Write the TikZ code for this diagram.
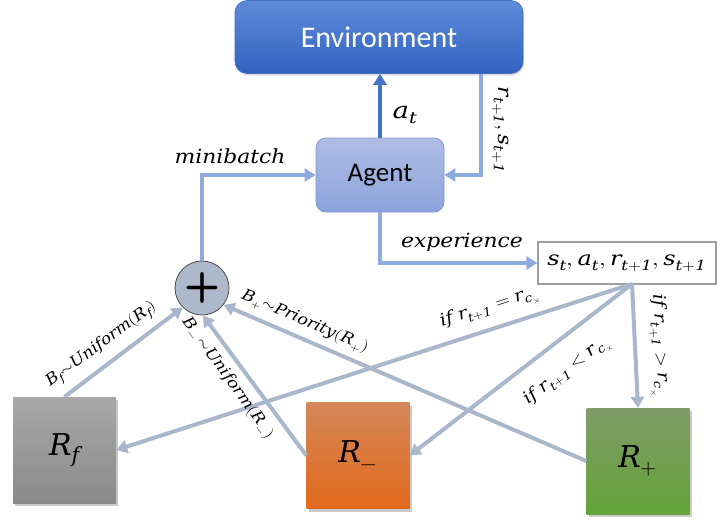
\documentclass[tikz,border=0pt]{standalone}
\usepackage{fontspec}
\usepackage{unicode-math}
\usepackage{graphicx}
\usetikzlibrary{arrows.meta,shadows}
\newfontfamily\calibri{Carlito}
% a heavier italic for the letters of the formulas
\setmathfontface\mlab{DejaVu Serif Italic}
% formulas are set a little wider than the font gives
\newcommand\wm[2][1.2]{\scalebox{#1}[1]{$\mlab{#2}$}}

\definecolor{envtop}{HTML}{5D8BD9}
\definecolor{envbot}{HTML}{3262C0}
\definecolor{envedge}{HTML}{3F6CC4}
\definecolor{agtop}{HTML}{AEBDE4}
\definecolor{agbot}{HTML}{8CA3DB}
\definecolor{agedge}{HTML}{7F97D0}
\definecolor{darkarrow}{HTML}{4472C4}
\definecolor{lightarrow}{HTML}{8FAADC}
\definecolor{greyarrow}{HTML}{A9B7CC}
\definecolor{plusfill}{HTML}{ADB9CA}
\definecolor{rftop}{HTML}{A8A8A8}
\definecolor{rfbot}{HTML}{8A8A8A}
\definecolor{rmtop}{HTML}{D4875A}
\definecolor{rmmid}{HTML}{F27B28}
\definecolor{rmbot}{HTML}{E2691B}
\definecolor{rptop}{HTML}{809C68}
\definecolor{rpmid}{HTML}{6BAD40}
\definecolor{rpbot}{HTML}{63A338}

\begin{document}
\begin{tikzpicture}[x=1pt,y=-1pt,
  tip/.style={-{Triangle[width=13pt,length=11pt]}},
  dk/.style={draw=darkarrow,line width=4pt,tip},
  lb/.style={draw=lightarrow,line width=4pt,tip},
  gr/.style={draw=greyarrow,line width=4pt,tip},
  membox/.style={minimum width=103pt,minimum height=106pt,inner sep=0pt,
    drop shadow={shadow xshift=2pt,shadow yshift=-3pt,opacity=0.35,fill=black!60},
    font=\fontsize{30}{36}\selectfont},
  lab/.style={inner sep=0pt,font=\fontsize{15.5}{18}\selectfont},
  condlab/.style={inner sep=0pt,font=\fontsize{17}{20}\selectfont},
  steplab/.style={inner sep=0pt,font=\fontsize{19.5}{23}\selectfont}]
\useasboundingbox (0,0) rectangle (720,522);

% environment and agent
\node[rounded corners=12pt,minimum width=288pt,minimum height=73pt,
  top color=envtop,bottom color=envbot,draw=envedge,line width=0.6pt,text=white,
  drop shadow={shadow xshift=1pt,shadow yshift=-2pt,opacity=0.25},
  font=\calibri\fontsize{30}{36}\selectfont] (env) at (379,37) {Environment};
\node[rounded corners=10pt,minimum width=128pt,minimum height=74pt,
  top color=agtop,bottom color=agbot,draw=agedge,line width=0.8pt,
  font=\calibri\fontsize{27}{32}\selectfont] (agent) at (380,175) {Agent};

% transition buffer
\node[draw=black!38,line width=1.3pt,fill=white,minimum width=178pt,minimum height=42pt,
  inner sep=0pt,font=\fontsize{20}{24}\selectfont] (exp) at (627,263) {\wm{s_t, a_t, r_{t+1}, s_{t+1}}};

% sampler
\node[circle,minimum size=54pt,inner sep=0pt,fill=plusfill,draw=black!70,line width=0.8pt,
  font=\sffamily\bfseries\fontsize{42}{42}\selectfont] (plus) at (202,288) {+};

% replay memories
\node[membox,top color=rftop,bottom color=rfbot] (Rf) at (64.5,450) {$\mlab{R_f}$};
\node[membox,top color=rmtop,middle color=rmmid,bottom color=rmbot] (Rm) at (358,455.5) {$\mlab{R_-}$};
\node[membox,top color=rptop,middle color=rpmid,bottom color=rpbot] (Rp) at (638,461) {$\mlab{R_+}$};

% interaction loop
\coordinate (rtop) at (481,73.5);
\coordinate (fork) at (632,284);
\draw[dk] (agent.north) -- (agent.north |- env.south);
\draw[lb] (rtop) |- (agent.east);
\draw[lb] (plus.north) |- (agent.west);
\draw[lb] (agent.south) |- (exp.west);

% routing of transitions
\draw[gr] (fork) -- (Rf.east);
\draw[gr] (fork) -- (Rm.east);
\draw[gr] (fork) -- (Rp.north);

% sampling into the minibatch
\draw[gr] (Rf.north) -- (plus.-135);
\draw[gr] (Rm.west) -- (plus.-88);
\draw[gr] (Rp.west) -- (plus.-38);

% labels
\node[inner sep=0pt,font=\fontsize{23}{27}\selectfont] (at) at (405,115) {\wm{a_t}};
\node[steplab,rotate=-90] (rs) at (501,130) {\wm[1.1]{r_{t+1}, s_{t+1}}};
\node[steplab] (mb) at (230,156) {\wm[1.12]{minibatch}};
\node[steplab] (ex) at (462,242) {\wm[1.12]{experience}};

\node[lab,rotate=36.5] (lf) at (102,345) {\wm[1.1]{B_f{\sim}Uniform(R_f)}};
\node[lab,rotate=-54] (lm) at (228,378) {\wm[1.1]{B_-\,{\sim}Uniform(R_-)}};
\node[lab,rotate=-23.3] (lp) at (305,322) {\wm[1.1]{B_+{\sim}Priority(R_+)}};

\node[condlab,rotate=18.1] (ceq) at (490,308) {\wm[1.12]{if\ r_{t+1} = r_{c_\times}}};
\node[condlab,rotate=37.6] (clt) at (568,371) {\wm[1.12]{if\ r_{t+1} < r_{c_\times}}};
\node[condlab,rotate=-87] (cgt) at (659,346) {\wm[1.12]{if\ r_{t+1} > r_{c_\times}}};
\end{tikzpicture}
\end{document}
